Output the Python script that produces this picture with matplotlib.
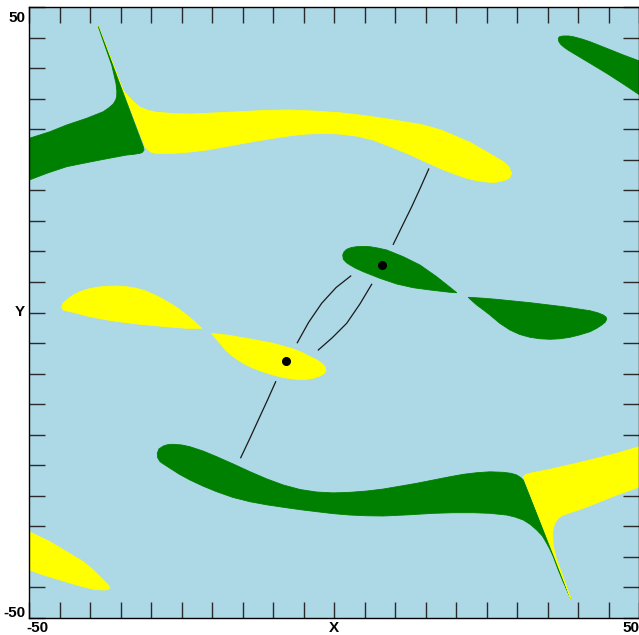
import matplotlib
matplotlib.use("Agg")
import matplotlib.pyplot as plt
from matplotlib.patches import Polygon

# -----------------------------------------------------
# Axis range and labels
# -----------------------------------------------------
x_range = (-50, 50)
y_range = (-50, 50)
tick_step = 5
x_name = "X"
y_name = "Y"

# -----------------------------------------------------
# Region outlines (x, y) in data units
# -----------------------------------------------------
yellow_top = [
    (-38.69, 46.82), (-36.40, 41.04), (-35.15, 37.65), (-34.60, 36.40),
    (-33.90, 35.55), (-32.90, 34.50), (-31.85, 33.62), (-30.50, 33.10),
    (-29.11, 32.80), (-26.40, 32.60), (-23.66, 32.52), (-19.50, 32.70),
    (-15.46, 32.90), (-11.30, 33.10), (-7.26, 33.18), (-3.20, 33.00),
    (0.93, 32.73), (5.00, 32.25), (9.13, 31.65), (14.59, 30.72),
    (17.50, 29.90), (20.07, 28.80), (22.40, 27.80), (24.43, 26.62),
    (26.20, 25.60), (27.70, 24.71), (28.60, 23.90), (29.08, 22.80),
    (28.70, 22.00), (27.70, 21.59), (26.60, 21.35), (25.52, 21.33),
    (23.60, 21.55), (21.70, 21.99), (19.50, 22.75), (17.33, 23.62),
    (14.60, 24.85), (11.87, 26.08), (9.10, 27.20), (6.39, 28.26),
    (3.70, 28.90), (0.93, 29.24), (-1.80, 29.35), (-4.52, 29.24),
    (-7.30, 28.95), (-10.00, 28.54), (-12.70, 28.10), (-15.46, 27.61),
    (-18.20, 27.10), (-20.92, 26.62), (-23.60, 26.30), (-26.39, 26.08),
    (-29.11, 26.08), (-30.00, 26.25), (-30.49, 26.62), (-31.03, 27.16),
]

green_top_left = [
    (-51.52, 28.26), (-50.00, 28.54), (-46.61, 29.62), (-43.87, 30.72),
    (-40.59, 31.82), (-37.87, 32.90), (-37.00, 33.50), (-36.23, 34.16),
    (-35.85, 34.80), (-35.67, 35.35), (-35.65, 36.30), (-35.79, 37.55),
    (-36.49, 40.55), (-38.69, 46.82), (-31.31, 27.16), (-31.20, 26.62),
    (-31.45, 26.25), (-31.85, 26.08), (-33.00, 25.90), (-34.03, 25.80),
    (-36.20, 25.40), (-38.41, 24.98), (-41.10, 24.45), (-43.87, 23.89),
    (-47.00, 22.85), (-50.00, 21.71), (-51.52, 21.22),
]

green_top_right = [
    (36.72, 44.92), (36.95, 45.20), (37.54, 45.30), (38.40, 45.30),
    (39.18, 45.18), (40.60, 44.80), (41.92, 44.36), (44.66, 43.28),
    (47.38, 42.19), (50.93, 40.87), (50.93, 35.06), (47.38, 37.43),
    (44.66, 39.18), (41.92, 40.83), (39.18, 42.47), (38.30, 43.00),
    (37.54, 43.55), (37.10, 43.95), (36.80, 44.40),
]

green_center = [
    (1.38, 9.42), (1.60, 9.95), (2.03, 10.35), (2.80, 10.65),
    (3.67, 10.78), (4.80, 10.82), (5.85, 10.78), (7.20, 10.55),
    (8.59, 10.24), (11.31, 9.14), (14.05, 7.78), (16.79, 5.86),
    (18.97, 4.13), (20.07, 3.24), (18.97, 3.31), (15.69, 3.69),
    (12.95, 4.06), (10.23, 4.67), (7.49, 5.60), (4.75, 6.68),
    (3.50, 7.25), (2.57, 7.78), (1.95, 8.20), (1.48, 8.72),
]

green_right = [
    (21.97, 2.49), (24.30, 2.35), (26.62, 2.16), (32.08, 1.61),
    (37.54, 0.95), (41.92, 0.29), (43.20, -0.05), (44.10, -0.41),
    (44.55, -0.75), (44.66, -1.11), (44.40, -1.60), (43.84, -2.05),
    (43.00, -2.60), (41.92, -3.15), (40.30, -3.65), (38.64, -4.06),
    (37.00, -4.30), (35.36, -4.39), (33.70, -4.30), (32.08, -4.06),
    (30.40, -3.60), (28.80, -2.87), (27.10, -1.75), (25.52, -0.41),
    (24.40, 0.45), (23.34, 1.23), (22.24, 2.21),
]

yellow_left = [
    (-44.69, 0.79), (-44.50, 1.50), (-43.87, 2.05), (-42.90, 2.80),
    (-41.69, 3.41), (-40.30, 3.85), (-38.95, 4.13), (-37.30, 4.30),
    (-35.67, 4.34), (-34.00, 4.22), (-32.39, 3.96), (-31.00, 3.55),
    (-29.67, 2.98), (-28.30, 2.30), (-26.93, 1.51), (-25.50, 0.60),
    (-24.20, -0.41), (-22.90, -1.50), (-21.74, -2.59), (-24.20, -2.59),
    (-27.48, -2.33), (-31.85, -1.93), (-36.23, -1.39), (-40.05, -0.69),
    (-42.79, 0.03), (-43.80, 0.25), (-44.43, 0.41),
]

yellow_center = [
    (-20.10, -3.41), (-17.64, -3.69), (-14.36, -4.23), (-10.00, -5.05),
    (-6.72, -5.98), (-5.30, -6.55), (-3.98, -7.24), (-2.90, -7.75),
    (-2.07, -8.32), (-1.55, -8.85), (-1.36, -9.42), (-1.60, -9.95),
    (-2.34, -10.40), (-3.40, -10.75), (-4.52, -10.94), (-5.60, -10.97),
    (-6.72, -10.89), (-8.40, -10.65), (-10.00, -10.24), (-11.60, -9.75),
    (-13.28, -9.14), (-15.00, -8.30), (-16.56, -7.24), (-17.80, -6.20),
    (-18.74, -5.05), (-19.40, -4.30), (-19.84, -3.80),
]

green_bottom = [
    (-29.02, -23.07), (-28.75, -22.35), (-28.03, -21.87), (-27.20, -21.62),
    (-26.39, -21.59), (-25.00, -21.70), (-23.66, -21.99), (-21.50, -22.70),
    (-19.28, -23.62), (-16.50, -24.85), (-13.82, -26.08), (-11.10, -27.25),
    (-8.36, -28.26), (-5.60, -29.00), (-2.89, -29.41), (-0.20, -29.55),
    (2.57, -29.46), (5.30, -29.25), (8.03, -28.92), (10.80, -28.45),
    (13.51, -27.98), (16.20, -27.45), (18.97, -26.90), (21.20, -26.50),
    (23.34, -26.25), (25.50, -26.10), (27.70, -26.18), (29.00, -26.35),
    (29.90, -26.62), (30.50, -27.00), (30.98, -27.44), (38.75, -46.82),
    (37.60, -44.30), (36.72, -42.19), (35.90, -40.01), (35.40, -38.90),
    (34.82, -37.81), (34.10, -36.60), (33.18, -35.63), (32.10, -34.70),
    (30.98, -33.99), (29.60, -33.50), (28.26, -33.18), (25.50, -32.90),
    (22.79, -32.80), (19.50, -32.80), (16.23, -32.90), (12.10, -33.15),
    (8.03, -33.34), (5.30, -33.30), (2.57, -33.18), (-0.20, -32.95),
    (-2.89, -32.63), (-5.60, -32.30), (-8.36, -31.91), (-11.10, -31.50),
    (-13.82, -31.00), (-16.60, -30.30), (-19.28, -29.36), (-21.50, -28.45),
    (-23.66, -27.44), (-25.40, -26.50), (-26.93, -25.52), (-27.90, -24.90),
    (-28.57, -24.44), (-28.95, -23.80),
]

yellow_bottom_right = [
    (30.98, -26.90), (31.40, -26.55), (32.08, -26.34), (35.36, -25.69),
    (40.82, -24.44), (46.30, -23.07), (50.93, -21.71), (50.93, -28.26),
    (46.30, -29.90), (40.82, -32.08), (37.54, -33.18), (36.70, -33.70),
    (36.18, -34.53), (35.90, -35.30), (35.80, -36.17), (35.90, -38.37),
    (36.46, -40.55), (37.28, -42.73), (38.75, -46.82),
]

yellow_bottom_left = [
    (-51.52, -35.14), (-50.00, -35.91), (-46.61, -37.55), (-43.87, -39.19),
    (-41.15, -40.83), (-39.70, -42.00), (-38.41, -43.28), (-37.60, -44.10),
    (-37.05, -44.64), (-36.77, -45.13), (-37.10, -45.40), (-37.87, -45.46),
    (-39.51, -45.35), (-42.23, -44.64), (-44.97, -43.82), (-47.70, -43.00),
    (-50.00, -42.19), (-51.52, -41.70),
]

# -----------------------------------------------------
# Curve segments and the two points
# -----------------------------------------------------
curve_low_x = [-15.34, -13.90, -12.46, -11.00, -9.61]
curve_low_y = [-23.79, -20.75, -17.61, -14.45, -11.34]
curve_high_x = [9.67, 11.20, 12.69, 14.10, 15.48]
curve_high_y = [11.17, 14.30, 17.33, 20.40, 23.51]
branch_a_x = [-6.07, -4.20, -2.07, 0.30, 2.69]
branch_a_y = [-4.95, -1.60, 1.51, 4.10, 5.98]
branch_b_x = [-2.62, -0.30, 2.03, 4.20, 6.13]
branch_b_y = [-6.14, -4.10, -1.77, 1.40, 4.62]

point_x = [-7.90, 7.85]
point_y = [-7.90, 7.83]

# -----------------------------------------------------
# Colours
# -----------------------------------------------------
bg_color = "#ADD8E6"
green = "#008000"
yellow = "#FFFF00"

# -----------------------------------------------------
# Figure / axes
# -----------------------------------------------------
W, H = 639, 635
fig = plt.figure(figsize=(W / 100, H / 100), dpi=100)
ax = fig.add_axes([29.3 / W, 17.3 / H, 610 / W, 610.4 / H])
ax.set_facecolor(bg_color)
ax.set_xlim(*x_range)
ax.set_ylim(*y_range)

# curves sit underneath the regions
for xs, ys in [(curve_low_x, curve_low_y), (curve_high_x, curve_high_y),
               (branch_a_x, branch_a_y), (branch_b_x, branch_b_y)]:
    ax.plot(xs, ys, color="#1a1a1a", lw=0.9, zorder=1)

regions = [
    (yellow_top, yellow), (green_top_left, green), (green_top_right, green),
    (green_center, green), (green_right, green), (yellow_left, yellow),
    (yellow_center, yellow), (green_bottom, green),
    (yellow_bottom_right, yellow), (yellow_bottom_left, yellow),
]
for pts, col in regions:
    ax.add_patch(Polygon(pts, closed=True, facecolor=col, edgecolor=col,
                         lw=0.6, joinstyle="round", zorder=2))

ax.plot(point_x, point_y, "o", color="black", markersize=5.5, zorder=3)

# -----------------------------------------------------
# Ticks on all four sides, pointing inward
# -----------------------------------------------------
ax.set_xticks(list(range(x_range[0], x_range[1] + 1, tick_step)))
ax.set_yticks(list(range(y_range[0], y_range[1] + 1, tick_step)))
ax.tick_params(direction="in", length=11.5, width=1, color="#2a2a2a",
               top=True, right=True, labelbottom=False, labelleft=False)
for s in ax.spines.values():
    s.set_color("black")
    s.set_linewidth(1)

# -----------------------------------------------------
# Axis end values and names
# -----------------------------------------------------
font = dict(family="Liberation Sans", fontsize=11, fontweight="bold")
ax.text(-0.007, 0.983, f"{y_range[1]}", transform=ax.transAxes,
        ha="right", va="center", **font)
ax.text(-0.007, 0.008, f"{y_range[0]}", transform=ax.transAxes,
        ha="right", va="center", **font)
ax.text(-0.007, 0.5, y_name, transform=ax.transAxes,
        ha="right", va="center", **font)
ax.text(-0.004, -0.017, f"{x_range[0]}", transform=ax.transAxes,
        ha="left", va="center", **font)
ax.text(0.5, -0.017, x_name, transform=ax.transAxes,
        ha="center", va="center", **font)
ax.text(0.9995, -0.017, f"{x_range[1]}", transform=ax.transAxes,
        ha="right", va="center", **font)

fig.savefig("out.png", dpi=100)
